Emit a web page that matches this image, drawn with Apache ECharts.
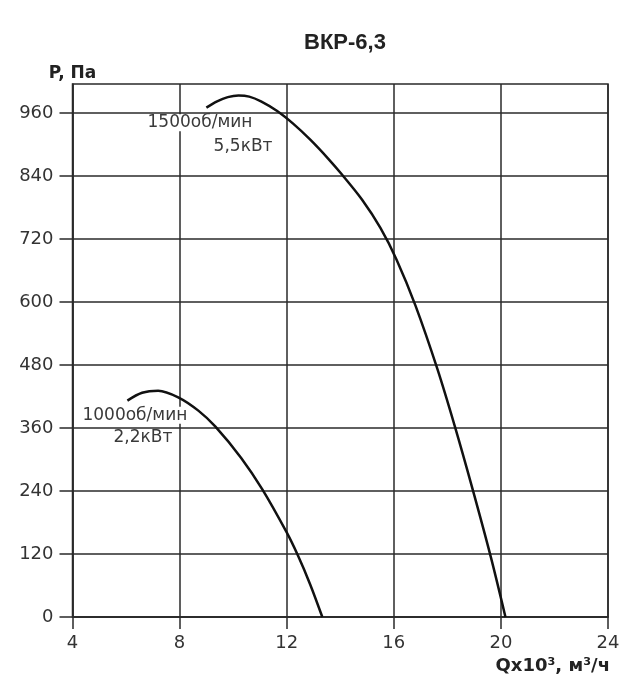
<!DOCTYPE html>
<html>
<head>
<meta charset="utf-8">
<script src="https://cdn.jsdelivr.net/npm/echarts@6/dist/echarts.min.js"></script>
<style>html,body{margin:0;padding:0;background:#fff}#c{width:637px;height:677px}</style>
</head>
<body>
<div id="c"></div>
<script>
var chartTitle = 'ВКР-6,3';
var yAxisName = 'P, Па';
var xAxisName = 'Qx10³, м³/ч';
var xTicks = [4, 8, 12, 16, 20, 24];
var yTicks = [0, 120, 240, 360, 480, 600, 720, 840, 960];

var q1500 = [9.0, 9.4, 9.8, 10.2, 10.6, 11.04, 11.63, 12.25, 12.88, 13.53, 14.04, 14.81, 15.5, 16.1, 16.81, 17.63, 18.28, 18.94, 19.62, 20.17];
var p1500 = [970, 982, 990, 993, 991, 982, 964, 939, 909, 874, 844, 795, 741, 681, 593, 472, 363, 244, 115, 0];
var q1000 = [6.05, 6.6, 7.2, 8.0, 8.7, 9.33, 10.3, 11.09, 12.0, 12.42, 12.87, 13.33];
var p1000 = [412, 427, 431, 417, 393, 363, 303, 243, 161, 117, 63, 0];

var label1500 = ['1500об/мин', '5,5кВт'];
var label1500Pos = [[8.76, 941], [10.37, 896]];
var label1000 = ['1000об/мин', '2,2кВт'];
var label1000Pos = [[6.33, 384], [6.63, 342]];

function pairs(xs, ys) { return xs.map(function (x, i) { return [x, ys[i]]; }); }
function marks(texts, pos) {
  return texts.map(function (t, i) {
    return { coord: pos[i], value: t, symbolSize: 0,
      label: { show: true, formatter: t, position: 'inside', color: '#3a3a3a', fontSize: 17,
        fontFamily: 'DejaVu Sans', backgroundColor: '#fff', padding: [0, 1] } };
  });
}

var lineColor = '#2a2a2a';
var chart = echarts.init(document.getElementById('c'), null, { renderer: 'canvas' });
chart.setOption({
  animation: false,
  backgroundColor: '#fff',
  title: { text: chartTitle, left: 340, top: 27, textAlign: 'center',
    textStyle: { fontSize: 22, fontWeight: 'bold', color: '#222', fontFamily: 'Liberation Sans, Arial' } },
  grid: { left: 72.5, right: 29, top: 84, bottom: 60, show: true, borderColor: lineColor, borderWidth: 1.5 },
  graphic: [{ type: 'text', right: 27, top: 657,
    style: { text: xAxisName, fontSize: 18, fontWeight: 'bold', fill: '#222', fontFamily: 'DejaVu Sans' } }],
  xAxis: {
    type: 'value', min: xTicks[0], max: xTicks[xTicks.length - 1], interval: 4,
    axisLine: { show: true, lineStyle: { color: lineColor, width: 1.5 } },
    axisTick: { show: true, length: 12, lineStyle: { color: lineColor, width: 1.5 } },
    splitLine: { show: true, lineStyle: { color: lineColor, width: 1.5 } },
    axisLabel: { margin: 17, fontSize: 18, color: '#333', fontFamily: 'DejaVu Sans' }
  },
  yAxis: {
    type: 'value', min: 0, max: 1015,
    name: yAxisName, nameLocation: 'end', nameGap: 2,
    nameTextStyle: { fontSize: 17, fontWeight: 'bold', color: '#222', fontFamily: 'DejaVu Sans', align: 'center', verticalAlign: 'bottom' },
    axisLine: { show: true, lineStyle: { color: lineColor, width: 1.5 } },
    axisTick: { show: true, length: 13, customValues: yTicks, lineStyle: { color: lineColor, width: 1.5 } },
    splitLine: { show: true, lineStyle: { color: lineColor, width: 1.5 } },
    axisLabel: { margin: 19, fontSize: 18, color: '#333', customValues: yTicks, fontFamily: 'DejaVu Sans' }
  },
  series: [
    { type: 'line', data: pairs(q1500, p1500), smooth: 0.33, symbol: 'none', z: 3,
      lineStyle: { color: '#111', width: 2.5 },
      markPoint: { symbol: 'circle', data: marks(label1500, label1500Pos), z: 5 } },
    { type: 'line', data: pairs(q1000, p1000), smooth: 0.33, symbol: 'none', z: 3,
      lineStyle: { color: '#111', width: 2.5 },
      markPoint: { symbol: 'circle', data: marks(label1000, label1000Pos), z: 5 } }
  ]
});
</script>
</body>
</html>
